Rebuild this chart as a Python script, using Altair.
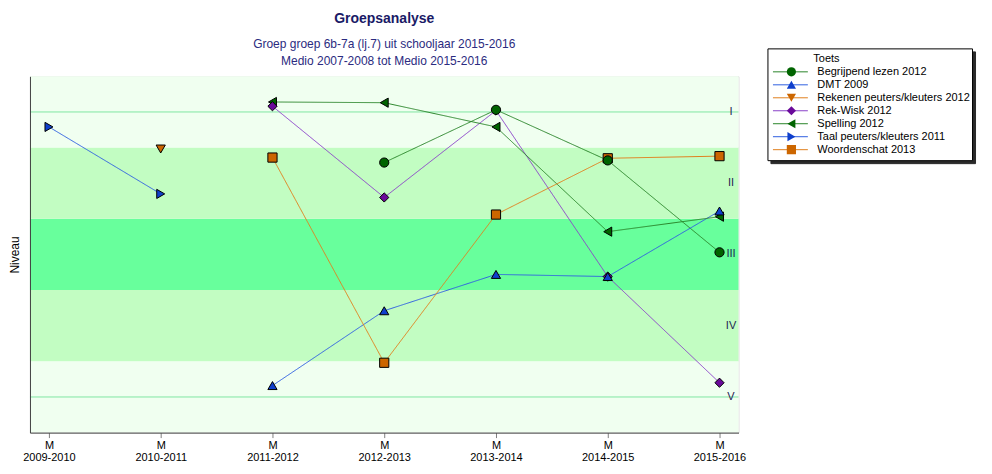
import altair as alt
import pandas as pd

# ---------------- data ----------------
periods = ["2009-2010", "2010-2011", "2011-2012", "2012-2013",
           "2013-2014", "2014-2015", "2015-2016"]

series = ["Begrijpend lezen 2012", "DMT 2009", "Rekenen peuters/kleuters 2012",
          "Rek-Wisk 2012", "Spelling 2012", "Taal peuters/kleuters 2011",
          "Woordenschat 2013"]

begrijpend = [None, None, None, 3.79, 4.53, 3.82, 2.53]
dmt = [None, None, 0.66, 1.71, 2.22, 2.19, 3.11]
rekenen = [None, 3.98, None, None, None, None, None]
rekwisk = [None, None, 4.58, 3.30, 4.52, 2.19, 0.70]
spelling = [None, None, 4.64, 4.63, 4.29, 2.82, 3.03]
taal = [4.29, 3.35, None, None, None, None, None]
woordenschat = [None, None, 3.86, 0.98, 3.06, 3.85, 3.88]

values = [begrijpend, dmt, rekenen, rekwisk, spelling, taal, woordenschat]

line_colors = ["#2a852a", "#2f5fe0", "#e0801e", "#8a40c8", "#2a852a", "#2f5fe0", "#e0801e"]
marker_colors = ["#006400", "#0f3fcc", "#cc6600", "#6a0a9a", "#006400", "#0f3fcc", "#cc6600"]
shapes = ["circle", "triangle-up", "triangle-down", "diamond",
          "triangle-left", "triangle-right", "square"]

band_lo = [0, 1, 2, 3, 4]
band_hi = [1, 2, 3, 4, 5]
band_colors = ["#f0fff0", "#c2fdc2", "#68ff9c", "#c2fdc2", "#f0fff0"]

level_names = ["I", "II", "III", "IV", "V"]
level_values = [4.5, 3.5, 2.5, 1.5, 0.5]
level_lines = [4.5, 0.5]

# ---------------- tables ----------------
rows = []
for name, vals in zip(series, values):
    for i, v in enumerate(vals):
        if v is not None:
            rows.append({"serie": name, "lijn": name, "schaduw": name,
                         "idx": i, "niveau": v})
df = pd.DataFrame(rows)
# markers are drawn with the first series on top
df_points = df.iloc[::-1].reset_index(drop=True)
bands = pd.DataFrame({"lo": band_lo, "hi": band_hi, "kleur": band_colors})
levels = pd.DataFrame({"naam": level_names, "niveau": level_values})
lines = pd.DataFrame({"niveau": level_lines})

label_array = "[" + ",".join(f"'{p}'" for p in periods) + "]"

xscale = alt.Scale(domain=[-0.17, 6.17], nice=False, zero=False)
yscale = alt.Scale(domain=[0, 5], nice=False, zero=False)

xaxis = alt.Axis(values=list(range(len(periods))),
                 labelExpr=f"['M', {label_array}[datum.value]]",
                 grid=False, title=None, tickSize=5, tickColor="#808080",
                 domain=True, domainColor="#404040", domainWidth=1, zindex=1,
                 labelFontSize=11, labelColor="black",
                 labelPadding=2, labelLineHeight=12, labelFont="Liberation Sans")
yaxis = alt.Axis(labels=False, ticks=False, grid=False, title="Niveau",
                 titleFontSize=12, titleFontWeight="normal", titleColor="black",
                 titlePadding=8, domain=True, domainColor="#404040", domainWidth=1,
                 zindex=1, titleFont="Liberation Sans")

band_layer = alt.Chart(bands).mark_rect().encode(
    x=alt.value(0), x2=alt.value("width"),
    y=alt.Y("lo:Q", scale=yscale, axis=yaxis), y2="hi:Q",
    color=alt.Color("kleur:N", scale=None, legend=None),
)

rule_layer = alt.Chart(lines).mark_rule(color="#80e6a2", strokeWidth=1).encode(
    x=alt.value(0), x2=alt.value("width"),
    y=alt.Y("niveau:Q", scale=yscale),
)

level_text = alt.Chart(levels).mark_text(
    fontSize=11, color="#1c1c50", align="center", baseline="middle",
    font="Liberation Sans").encode(
    x=alt.value(702.5),
    y=alt.Y("niveau:Q", scale=yscale),
    text="naam:N",
)

LX, LY = 739, -28
common = dict(orient="none", title="Toets", titleFontSize=11,
              titleFontWeight="normal", titleFont="Liberation Sans", titlePadding=2,
              labelFontSize=11, labelFont="Liberation Sans", clipHeight=11,
              rowPadding=1, padding=5)

# shadow of the legend box
legend_d = alt.Legend(legendX=LX + 3, legendY=LY + 3,
                      titleColor="transparent", labelColor="transparent",
                      symbolType="stroke", symbolSize=1225, symbolOpacity=0,
                      symbolOffset=0, labelOffset=6, fillColor="#2a2a2a",
                      strokeColor="#2a2a2a", zindex=0, **common)
# frame + coloured lines
legend_a = alt.Legend(legendX=LX, legendY=LY, titleColor="transparent",
                      labelColor="transparent", symbolType="stroke", symbolSize=1225,
                      symbolStrokeWidth=1, symbolOffset=0, labelOffset=6,
                      fillColor="white", strokeColor="black", zindex=1, **common)
# markers and labels
legend_b = alt.Legend(legendX=LX, legendY=LY, titleColor="transparent",
                      labelColor="black",
                      symbolSize=85, symbolStrokeColor="black", symbolStrokeWidth=1,
                      symbolOpacity=1, symbolOffset=13.5, labelOffset=20.5,
                      zindex=2, **common)
# title above the labels
legend_c = alt.Legend(legendX=LX + 41, legendY=LY, titleColor="black",
                      labelColor="transparent", symbolOpacity=0,
                      symbolType="stroke", zindex=3, **common)

line_layer = alt.Chart(df).mark_line().encode(
    x=alt.X("idx:Q", scale=xscale, axis=xaxis),
    y=alt.Y("niveau:Q", scale=yscale),
    stroke=alt.Stroke("lijn:N", sort=series,
                      scale=alt.Scale(range=line_colors), legend=legend_a),
    strokeDash=alt.StrokeDash("serie:N", sort=series,
                              scale=alt.Scale(range=[[1, 0]] * len(series)),
                              legend=legend_c),
    strokeWidth=alt.StrokeWidth("schaduw:O", sort=series,
                                scale=alt.Scale(range=[1] * len(series)),
                                legend=legend_d),
)

point_layer = alt.Chart(df_points).mark_point(filled=True, stroke="black",
                                              strokeWidth=1, size=85, opacity=1).encode(
    x=alt.X("idx:Q", scale=xscale),
    y=alt.Y("niveau:Q", scale=yscale),
    fill=alt.Fill("serie:N", scale=alt.Scale(domain=series, range=marker_colors),
                  legend=legend_b),
    shape=alt.Shape("serie:N", scale=alt.Scale(domain=series, range=shapes),
                    legend=legend_b),
)

chart = alt.layer(band_layer, rule_layer, level_text, line_layer, point_layer).properties(
    width=710, height=357,
    title=alt.TitleParams(
        text="Groepsanalyse",
        subtitle=["Groep groep 6b-7a (lj.7) uit schooljaar 2015-2016",
                  "Medio 2007-2008 tot Medio 2015-2016"],
        anchor="middle", frame="group", fontSize=14, fontWeight="bold",
        color="#1a1a66", font="Liberation Sans", subtitleFont="Liberation Sans",
        subtitleFontSize=12, subtitleColor="#2b2b80", subtitleLineHeight=17,
        subtitlePadding=13, offset=10, dy=29,
    ),
    autosize=alt.AutoSizeParams(type="none"),
    padding={"left": 22, "top": 68, "right": 246, "bottom": 34},
).resolve_scale(
    fill="independent", stroke="independent", shape="independent",
    strokeDash="independent", strokeWidth="independent"
).configure_view(stroke=None).configure(font="Liberation Sans")

chart.save("out.html", embed_options={"renderer": "svg", "actions": False})
